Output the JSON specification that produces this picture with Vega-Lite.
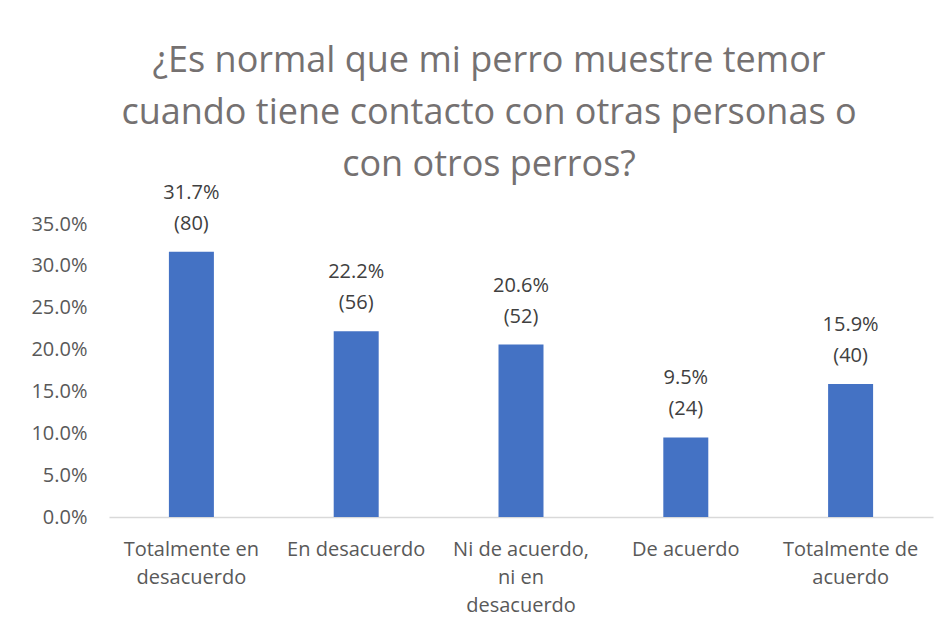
{
  "$schema": "https://vega.github.io/schema/vega-lite/v6.json",
  "width": 824,
  "height": 293,
  "autosize": {"type": "none"},
  "padding": {"left": 109, "top": 224, "right": 14, "bottom": 113},
  "background": "white",
  "config": {"view": {"stroke": null}, "font": "Open Sans"},
  "title": {
    "text": ["¿Es normal que mi perro muestre temor", "cuando tiene contacto con otras personas o", "con otros perros?"],
    "fontSize": 36,
    "font": "Open Sans",
    "fontWeight": "normal",
    "color": "#757171",
    "lineHeight": 52,
    "anchor": "middle",
    "dx": -32,
    "offset": -1
  },
  "data": {
    "values": [
      {"cat": "Totalmente en|desacuerdo", "pct": 0.317, "n": 80},
      {"cat": "En desacuerdo", "pct": 0.222, "n": 56},
      {"cat": "Ni de acuerdo,|ni en|desacuerdo", "pct": 0.206, "n": 52},
      {"cat": "De acuerdo", "pct": 0.095, "n": 24},
      {"cat": "Totalmente de|acuerdo", "pct": 0.159, "n": 40}
    ]
  },
  "transform": [
    {"calculate": "[format(datum.pct, '.1%'), '(' + datum.n + ')']", "as": "lab"}
  ],
  "encoding": {
    "x": {
      "field": "cat", "type": "nominal", "sort": null,
      "scale": {"paddingInner": 0.727, "paddingOuter": 0.3635},
      "axis": {
        "title": null, "labelAngle": 0, "labelExpr": "split(datum.label, '|')",
        "labelFontSize": 20, "labelColor": "#595959", "labelLineHeight": 28,
        "labelPadding": 22, "ticks": false, "domainColor": "#d9d9d9", "domainWidth": 1.5,
        "labelLimit": 200
      }
    },
    "y": {
      "field": "pct", "type": "quantitative",
      "scale": {"domain": [0, 0.35]},
      "axis": {
        "title": null, "format": ".1%", "values": [0, 0.05, 0.1, 0.15, 0.2, 0.25, 0.3, 0.35],
        "grid": false, "domain": false, "ticks": false,
        "labelFontSize": 20, "labelColor": "#595959", "labelPadding": 22
      }
    }
  },
  "layer": [
    {"mark": {"type": "bar", "color": "#4472C4"}},
    {
      "mark": {"type": "text", "baseline": "bottom", "dy": -49, "fontSize": 20, "color": "#404040", "lineHeight": 31},
      "encoding": {"text": {"field": "lab"}}
    }
  ]
}
